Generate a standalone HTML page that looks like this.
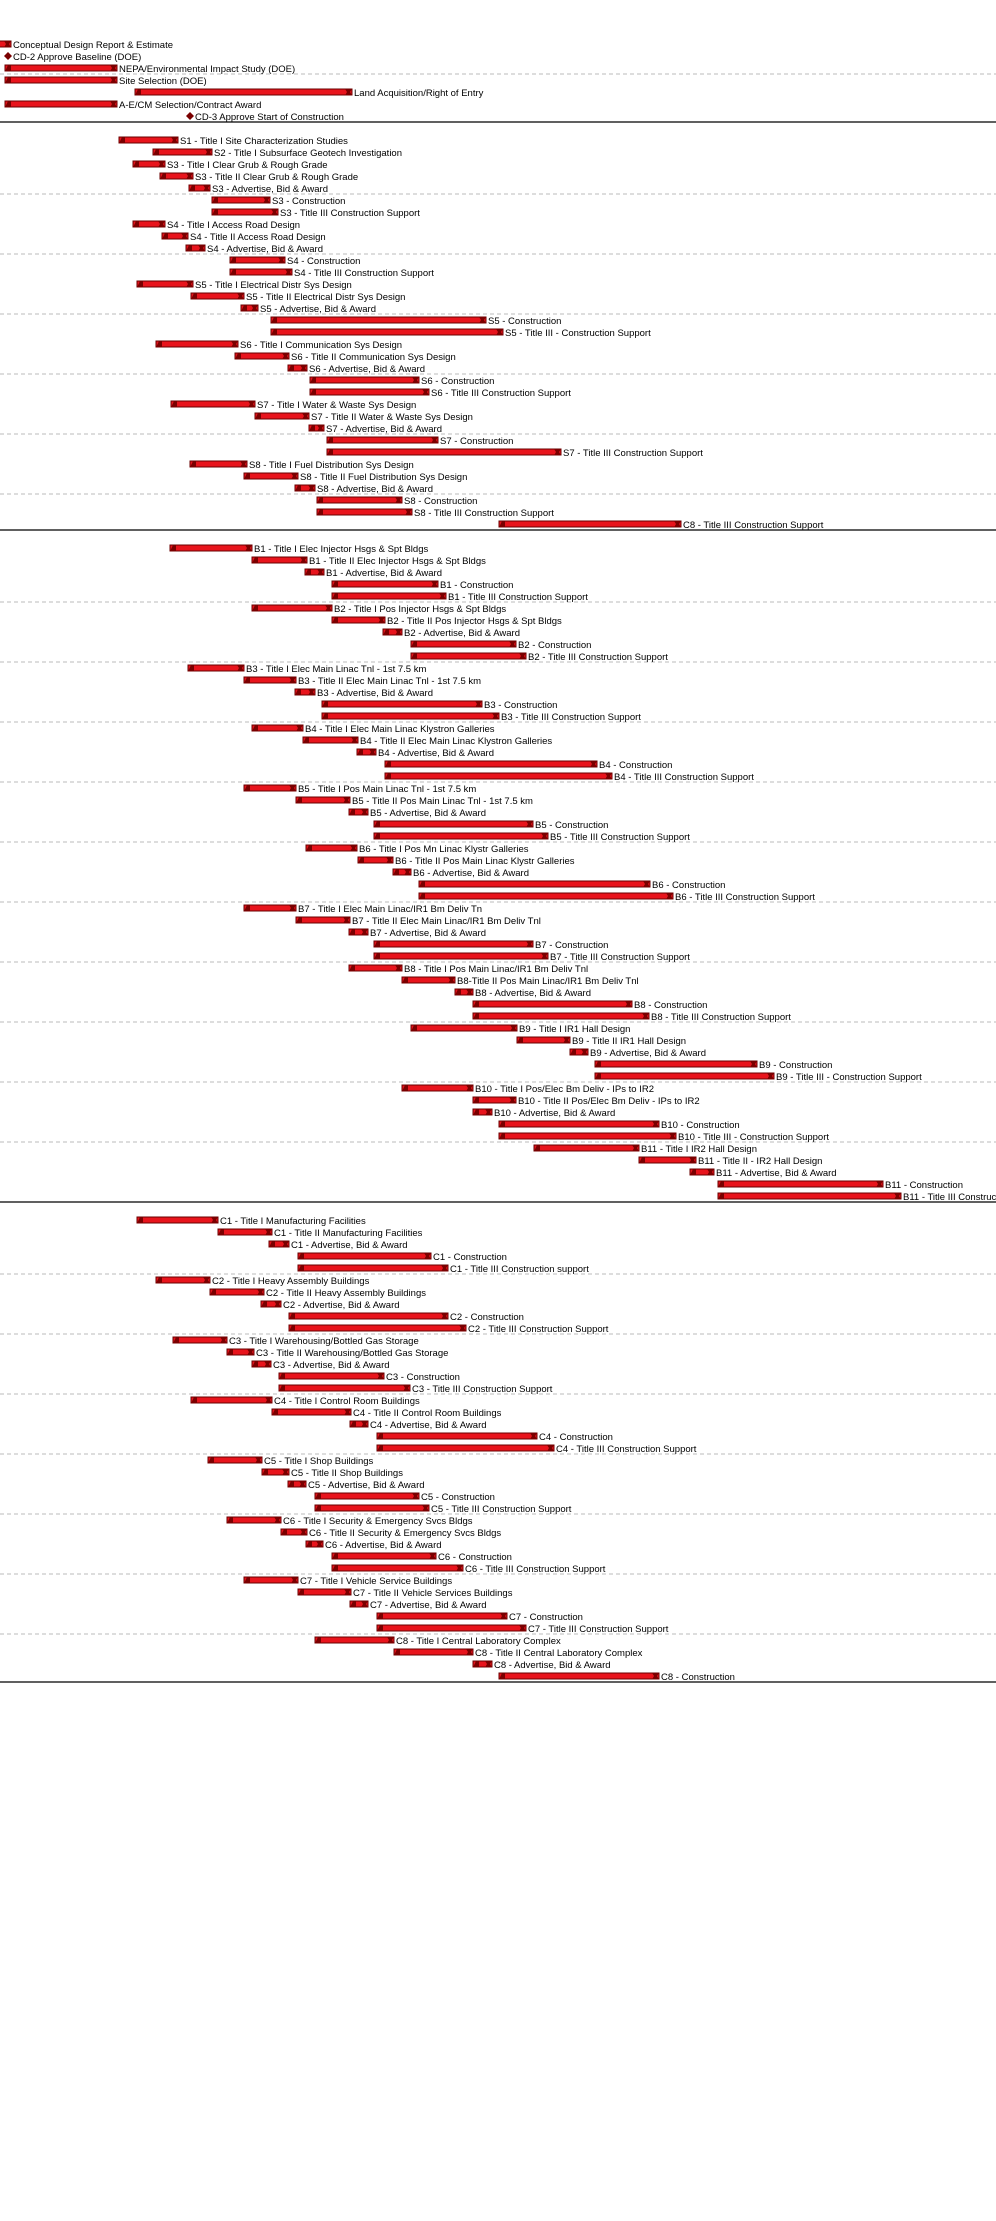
<!DOCTYPE html>
<html><head><meta charset="utf-8"><style>
html,body{margin:0;padding:0;background:#fff}
svg{display:block}
text{font-family:"Liberation Sans",sans-serif;font-size:9.5px;fill:#000}
.b{fill:#e8141c;stroke:#6a0000;stroke-width:1}
.c{fill:#7a0000}
.d{stroke:#bbb;stroke-width:1;stroke-dasharray:4,3}
.s{stroke:#000;stroke-width:1.2}
</style></head><body>
<svg width="996" height="2221" viewBox="0 0 996 2221" xmlns="http://www.w3.org/2000/svg">
<defs>
<polygon id="L" class="c" points="0,3.5 3,-3 6,-3 6,3.5"/>
<polygon id="R" class="c" points="-7,-3 0,-3 -2,0 0,3.5 -7,3.5 -5,0"/>
</defs>
<g>
<line class="d" x1="0" y1="74" x2="996" y2="74"/>
<line class="d" x1="0" y1="194" x2="996" y2="194"/><line class="d" x1="0" y1="254" x2="996" y2="254"/><line class="d" x1="0" y1="314" x2="996" y2="314"/><line class="d" x1="0" y1="374" x2="996" y2="374"/><line class="d" x1="0" y1="434" x2="996" y2="434"/><line class="d" x1="0" y1="494" x2="996" y2="494"/>
<line class="d" x1="0" y1="602" x2="996" y2="602"/><line class="d" x1="0" y1="662" x2="996" y2="662"/><line class="d" x1="0" y1="722" x2="996" y2="722"/><line class="d" x1="0" y1="782" x2="996" y2="782"/><line class="d" x1="0" y1="842" x2="996" y2="842"/><line class="d" x1="0" y1="902" x2="996" y2="902"/><line class="d" x1="0" y1="962" x2="996" y2="962"/><line class="d" x1="0" y1="1022" x2="996" y2="1022"/><line class="d" x1="0" y1="1082" x2="996" y2="1082"/><line class="d" x1="0" y1="1142" x2="996" y2="1142"/>
<line class="d" x1="0" y1="1274" x2="996" y2="1274"/><line class="d" x1="0" y1="1334" x2="996" y2="1334"/><line class="d" x1="0" y1="1394" x2="996" y2="1394"/><line class="d" x1="0" y1="1454" x2="996" y2="1454"/><line class="d" x1="0" y1="1514" x2="996" y2="1514"/><line class="d" x1="0" y1="1574" x2="996" y2="1574"/><line class="d" x1="0" y1="1634" x2="996" y2="1634"/>
<line class="s" x1="0" y1="122" x2="996" y2="122"/><line class="s" x1="0" y1="530" x2="996" y2="530"/><line class="s" x1="0" y1="1202" x2="996" y2="1202"/><line class="s" x1="0" y1="1682" x2="996" y2="1682"/>
</g>

<!-- Section 0 -->
<g transform="translate(-4,44)"><rect class="b" x="0" y="-3" width="15" height="6"/><use href="#R" x="15"/><text x="17" y="4">Conceptual  Design Report &amp; Estimate</text></g>
<g transform="translate(8,56)"><polygon class="c" points="0,-4 4,0 0,4 -4,0"/><text x="5" y="4">CD-2 Approve Baseline (DOE)</text></g>
<g transform="translate(5,68)"><rect class="b" y="-3" width="112" height="6"/><use href="#L"/><use href="#R" x="112"/><text x="114" y="4">NEPA/Environmental  Impact Study (DOE)</text></g>
<g transform="translate(5,80)"><rect class="b" y="-3" width="112" height="6"/><use href="#L"/><use href="#R" x="112"/><text x="114" y="4">Site Selection (DOE)</text></g>
<g transform="translate(135,92)"><rect class="b" y="-3" width="217" height="6"/><use href="#L"/><use href="#R" x="217"/><text x="219" y="4">Land Acquisition/Right of Entry</text></g>
<g transform="translate(5,104)"><rect class="b" y="-3" width="112" height="6"/><use href="#L"/><use href="#R" x="112"/><text x="114" y="4">A-E/CM Selection/Contract Award</text></g>
<g transform="translate(190,116)"><polygon class="c" points="0,-4 4,0 0,4 -4,0"/><text x="5" y="4">CD-3 Approve Start of Construction</text></g>

<!-- S section -->
<g transform="translate(119,140)"><rect class="b" y="-3" width="59" height="6"/><use href="#L"/><use href="#R" x="59"/><text x="61" y="4">S1 - Title I Site Characterization Studies</text></g>
<g transform="translate(153,152)"><rect class="b" y="-3" width="59" height="6"/><use href="#L"/><use href="#R" x="59"/><text x="61" y="4">S2 - Title I Subsurface Geotech Investigation</text></g>
<g transform="translate(133,164)"><rect class="b" y="-3" width="32" height="6"/><use href="#L"/><use href="#R" x="32"/><text x="34" y="4">S3 - Title I Clear Grub &amp; Rough Grade</text></g>
<g transform="translate(160,176)"><rect class="b" y="-3" width="33" height="6"/><use href="#L"/><use href="#R" x="33"/><text x="35" y="4">S3 - Title II Clear Grub &amp; Rough Grade</text></g>
<g transform="translate(189,188)"><rect class="b" y="-3" width="21" height="6"/><use href="#L"/><use href="#R" x="21"/><text x="23" y="4">S3 - Advertise, Bid &amp; Award</text></g>
<g transform="translate(212,200)"><rect class="b" y="-3" width="58" height="6"/><use href="#L"/><use href="#R" x="58"/><text x="60" y="4">S3 - Construction</text></g>
<g transform="translate(212,212)"><rect class="b" y="-3" width="66" height="6"/><use href="#L"/><use href="#R" x="66"/><text x="68" y="4">S3 - Title III Construction Support</text></g>
<g transform="translate(133,224)"><rect class="b" y="-3" width="32" height="6"/><use href="#L"/><use href="#R" x="32"/><text x="34" y="4">S4 - Title I Access Road Design</text></g>
<g transform="translate(162,236)"><rect class="b" y="-3" width="26" height="6"/><use href="#L"/><use href="#R" x="26"/><text x="28" y="4">S4 - Title II Access Road Design</text></g>
<g transform="translate(186,248)"><rect class="b" y="-3" width="19" height="6"/><use href="#L"/><use href="#R" x="19"/><text x="21" y="4">S4 - Advertise, Bid &amp; Award</text></g>
<g transform="translate(230,260)"><rect class="b" y="-3" width="55" height="6"/><use href="#L"/><use href="#R" x="55"/><text x="57" y="4">S4 - Construction</text></g>
<g transform="translate(230,272)"><rect class="b" y="-3" width="62" height="6"/><use href="#L"/><use href="#R" x="62"/><text x="64" y="4">S4 - Title III Construction Support</text></g>
<g transform="translate(137,284)"><rect class="b" y="-3" width="56" height="6"/><use href="#L"/><use href="#R" x="56"/><text x="58" y="4">S5 - Title I Electrical Distr Sys Design</text></g>
<g transform="translate(191,296)"><rect class="b" y="-3" width="53" height="6"/><use href="#L"/><use href="#R" x="53"/><text x="55" y="4">S5 - Title II Electrical Distr Sys Design</text></g>
<g transform="translate(241,308)"><rect class="b" y="-3" width="17" height="6"/><use href="#L"/><use href="#R" x="17"/><text x="19" y="4">S5 - Advertise, Bid &amp; Award</text></g>
<g transform="translate(271,320)"><rect class="b" y="-3" width="215" height="6"/><use href="#L"/><use href="#R" x="215"/><text x="217" y="4">S5 - Construction</text></g>
<g transform="translate(271,332)"><rect class="b" y="-3" width="232" height="6"/><use href="#L"/><use href="#R" x="232"/><text x="234" y="4">S5 - Title III - Construction Support</text></g>
<g transform="translate(156,344)"><rect class="b" y="-3" width="82" height="6"/><use href="#L"/><use href="#R" x="82"/><text x="84" y="4">S6 - Title I Communication Sys Design</text></g>
<g transform="translate(235,356)"><rect class="b" y="-3" width="54" height="6"/><use href="#L"/><use href="#R" x="54"/><text x="56" y="4">S6 - Title II Communication Sys Design</text></g>
<g transform="translate(288,368)"><rect class="b" y="-3" width="19" height="6"/><use href="#L"/><use href="#R" x="19"/><text x="21" y="4">S6 - Advertise, Bid &amp; Award</text></g>
<g transform="translate(310,380)"><rect class="b" y="-3" width="109" height="6"/><use href="#L"/><use href="#R" x="109"/><text x="111" y="4">S6 - Construction</text></g>
<g transform="translate(310,392)"><rect class="b" y="-3" width="119" height="6"/><use href="#L"/><use href="#R" x="119"/><text x="121" y="4">S6 - Title III Construction Support</text></g>
<g transform="translate(171,404)"><rect class="b" y="-3" width="84" height="6"/><use href="#L"/><use href="#R" x="84"/><text x="86" y="4">S7 - Title I Water &amp; Waste Sys Design</text></g>
<g transform="translate(255,416)"><rect class="b" y="-3" width="54" height="6"/><use href="#L"/><use href="#R" x="54"/><text x="56" y="4">S7 - Title II Water &amp; Waste Sys Design</text></g>
<g transform="translate(309,428)"><rect class="b" y="-3" width="15" height="6"/><use href="#L"/><use href="#R" x="15"/><text x="17" y="4">S7 - Advertise, Bid &amp; Award</text></g>
<g transform="translate(327,440)"><rect class="b" y="-3" width="111" height="6"/><use href="#L"/><use href="#R" x="111"/><text x="113" y="4">S7 - Construction</text></g>
<g transform="translate(327,452)"><rect class="b" y="-3" width="234" height="6"/><use href="#L"/><use href="#R" x="234"/><text x="236" y="4">S7 - Title III Construction Support</text></g>
<g transform="translate(190,464)"><rect class="b" y="-3" width="57" height="6"/><use href="#L"/><use href="#R" x="57"/><text x="59" y="4">S8 - Title I Fuel Distribution Sys Design</text></g>
<g transform="translate(244,476)"><rect class="b" y="-3" width="54" height="6"/><use href="#L"/><use href="#R" x="54"/><text x="56" y="4">S8 - Title II Fuel Distribution Sys Design</text></g>
<g transform="translate(295,488)"><rect class="b" y="-3" width="20" height="6"/><use href="#L"/><use href="#R" x="20"/><text x="22" y="4">S8 - Advertise, Bid &amp; Award</text></g>
<g transform="translate(317,500)"><rect class="b" y="-3" width="85" height="6"/><use href="#L"/><use href="#R" x="85"/><text x="87" y="4">S8 - Construction</text></g>
<g transform="translate(317,512)"><rect class="b" y="-3" width="95" height="6"/><use href="#L"/><use href="#R" x="95"/><text x="97" y="4">S8 - Title III Construction Support</text></g>
<g transform="translate(499,524)"><rect class="b" y="-3" width="182" height="6"/><use href="#L"/><use href="#R" x="182"/><text x="184" y="4">C8 - Title III Construction Support</text></g>

<!-- B section -->
<g transform="translate(170,548)"><rect class="b" y="-3" width="82" height="6"/><use href="#L"/><use href="#R" x="82"/><text x="84" y="4">B1 - Title I Elec Injector Hsgs &amp; Spt Bldgs</text></g>
<g transform="translate(252,560)"><rect class="b" y="-3" width="55" height="6"/><use href="#L"/><use href="#R" x="55"/><text x="57" y="4">B1 - Title II Elec Injector Hsgs &amp; Spt Bldgs</text></g>
<g transform="translate(305,572)"><rect class="b" y="-3" width="19" height="6"/><use href="#L"/><use href="#R" x="19"/><text x="21" y="4">B1 - Advertise, Bid &amp; Award</text></g>
<g transform="translate(332,584)"><rect class="b" y="-3" width="106" height="6"/><use href="#L"/><use href="#R" x="106"/><text x="108" y="4">B1 - Construction</text></g>
<g transform="translate(332,596)"><rect class="b" y="-3" width="114" height="6"/><use href="#L"/><use href="#R" x="114"/><text x="116" y="4">B1 - Title III Construction Support</text></g>
<g transform="translate(252,608)"><rect class="b" y="-3" width="80" height="6"/><use href="#L"/><use href="#R" x="80"/><text x="82" y="4">B2 - Title I Pos Injector Hsgs &amp; Spt Bldgs</text></g>
<g transform="translate(332,620)"><rect class="b" y="-3" width="53" height="6"/><use href="#L"/><use href="#R" x="53"/><text x="55" y="4">B2 - Title II Pos Injector Hsgs &amp; Spt Bldgs</text></g>
<g transform="translate(383,632)"><rect class="b" y="-3" width="19" height="6"/><use href="#L"/><use href="#R" x="19"/><text x="21" y="4">B2 - Advertise, Bid &amp; Award</text></g>
<g transform="translate(411,644)"><rect class="b" y="-3" width="105" height="6"/><use href="#L"/><use href="#R" x="105"/><text x="107" y="4">B2 - Construction</text></g>
<g transform="translate(411,656)"><rect class="b" y="-3" width="115" height="6"/><use href="#L"/><use href="#R" x="115"/><text x="117" y="4">B2 - Title III Construction Support</text></g>
<g transform="translate(188,668)"><rect class="b" y="-3" width="56" height="6"/><use href="#L"/><use href="#R" x="56"/><text x="58" y="4">B3 - Title I Elec Main Linac Tnl - 1st 7.5 km</text></g>
<g transform="translate(244,680)"><rect class="b" y="-3" width="52" height="6"/><use href="#L"/><use href="#R" x="52"/><text x="54" y="4">B3 - Title II Elec Main Linac Tnl - 1st 7.5 km</text></g>
<g transform="translate(295,692)"><rect class="b" y="-3" width="20" height="6"/><use href="#L"/><use href="#R" x="20"/><text x="22" y="4">B3 - Advertise, Bid &amp; Award</text></g>
<g transform="translate(322,704)"><rect class="b" y="-3" width="160" height="6"/><use href="#L"/><use href="#R" x="160"/><text x="162" y="4">B3 - Construction</text></g>
<g transform="translate(322,716)"><rect class="b" y="-3" width="177" height="6"/><use href="#L"/><use href="#R" x="177"/><text x="179" y="4">B3 - Title III Construction Support</text></g>
<g transform="translate(252,728)"><rect class="b" y="-3" width="51" height="6"/><use href="#L"/><use href="#R" x="51"/><text x="53" y="4">B4 - Title I Elec Main Linac Klystron Galleries</text></g>
<g transform="translate(303,740)"><rect class="b" y="-3" width="55" height="6"/><use href="#L"/><use href="#R" x="55"/><text x="57" y="4">B4 - Title II Elec Main Linac Klystron Galleries</text></g>
<g transform="translate(357,752)"><rect class="b" y="-3" width="19" height="6"/><use href="#L"/><use href="#R" x="19"/><text x="21" y="4">B4 - Advertise, Bid &amp; Award</text></g>
<g transform="translate(385,764)"><rect class="b" y="-3" width="212" height="6"/><use href="#L"/><use href="#R" x="212"/><text x="214" y="4">B4 - Construction</text></g>
<g transform="translate(385,776)"><rect class="b" y="-3" width="227" height="6"/><use href="#L"/><use href="#R" x="227"/><text x="229" y="4">B4 - Title III Construction Support</text></g>
<g transform="translate(244,788)"><rect class="b" y="-3" width="52" height="6"/><use href="#L"/><use href="#R" x="52"/><text x="54" y="4">B5 - Title I Pos Main Linac Tnl - 1st 7.5 km</text></g>
<g transform="translate(296,800)"><rect class="b" y="-3" width="54" height="6"/><use href="#L"/><use href="#R" x="54"/><text x="56" y="4">B5 - Title II Pos Main Linac Tnl - 1st 7.5 km</text></g>
<g transform="translate(349,812)"><rect class="b" y="-3" width="19" height="6"/><use href="#L"/><use href="#R" x="19"/><text x="21" y="4">B5 - Advertise, Bid &amp; Award</text></g>
<g transform="translate(374,824)"><rect class="b" y="-3" width="159" height="6"/><use href="#L"/><use href="#R" x="159"/><text x="161" y="4">B5 - Construction</text></g>
<g transform="translate(374,836)"><rect class="b" y="-3" width="174" height="6"/><use href="#L"/><use href="#R" x="174"/><text x="176" y="4">B5 - Title III Construction Support</text></g>
<g transform="translate(306,848)"><rect class="b" y="-3" width="51" height="6"/><use href="#L"/><use href="#R" x="51"/><text x="53" y="4">B6 - Title I Pos Mn Linac Klystr Galleries</text></g>
<g transform="translate(358,860)"><rect class="b" y="-3" width="35" height="6"/><use href="#L"/><use href="#R" x="35"/><text x="37" y="4">B6 - Title II Pos Main Linac Klystr Galleries</text></g>
<g transform="translate(393,872)"><rect class="b" y="-3" width="18" height="6"/><use href="#L"/><use href="#R" x="18"/><text x="20" y="4">B6 - Advertise, Bid &amp; Award</text></g>
<g transform="translate(419,884)"><rect class="b" y="-3" width="231" height="6"/><use href="#L"/><use href="#R" x="231"/><text x="233" y="4">B6 - Construction</text></g>
<g transform="translate(419,896)"><rect class="b" y="-3" width="254" height="6"/><use href="#L"/><use href="#R" x="254"/><text x="256" y="4">B6 - Title III Construction Support</text></g>
<g transform="translate(244,908)"><rect class="b" y="-3" width="52" height="6"/><use href="#L"/><use href="#R" x="52"/><text x="54" y="4">B7 - Title I Elec Main Linac/IR1 Bm Deliv Tn</text></g>
<g transform="translate(296,920)"><rect class="b" y="-3" width="54" height="6"/><use href="#L"/><use href="#R" x="54"/><text x="56" y="4">B7 - Title II Elec Main Linac/IR1 Bm Deliv Tnl</text></g>
<g transform="translate(349,932)"><rect class="b" y="-3" width="19" height="6"/><use href="#L"/><use href="#R" x="19"/><text x="21" y="4">B7 - Advertise, Bid &amp; Award</text></g>
<g transform="translate(374,944)"><rect class="b" y="-3" width="159" height="6"/><use href="#L"/><use href="#R" x="159"/><text x="161" y="4">B7 - Construction</text></g>
<g transform="translate(374,956)"><rect class="b" y="-3" width="174" height="6"/><use href="#L"/><use href="#R" x="174"/><text x="176" y="4">B7 - Title III Construction Support</text></g>
<g transform="translate(349,968)"><rect class="b" y="-3" width="53" height="6"/><use href="#L"/><use href="#R" x="53"/><text x="55" y="4">B8 - Title I Pos Main Linac/IR1 Bm Deliv Tnl</text></g>
<g transform="translate(402,980)"><rect class="b" y="-3" width="53" height="6"/><use href="#L"/><use href="#R" x="53"/><text x="55" y="4">B8-Title II Pos Main Linac/IR1 Bm Deliv Tnl</text></g>
<g transform="translate(455,992)"><rect class="b" y="-3" width="18" height="6"/><use href="#L"/><use href="#R" x="18"/><text x="20" y="4">B8 - Advertise, Bid &amp; Award</text></g>
<g transform="translate(473,1004)"><rect class="b" y="-3" width="159" height="6"/><use href="#L"/><use href="#R" x="159"/><text x="161" y="4">B8 - Construction</text></g>
<g transform="translate(473,1016)"><rect class="b" y="-3" width="176" height="6"/><use href="#L"/><use href="#R" x="176"/><text x="178" y="4">B8 - Title III Construction Support</text></g>
<g transform="translate(411,1028)"><rect class="b" y="-3" width="106" height="6"/><use href="#L"/><use href="#R" x="106"/><text x="108" y="4">B9 - Title I IR1 Hall Design</text></g>
<g transform="translate(517,1040)"><rect class="b" y="-3" width="53" height="6"/><use href="#L"/><use href="#R" x="53"/><text x="55" y="4">B9 - Title II IR1 Hall Design</text></g>
<g transform="translate(570,1052)"><rect class="b" y="-3" width="18" height="6"/><use href="#L"/><use href="#R" x="18"/><text x="20" y="4">B9 - Advertise, Bid &amp; Award</text></g>
<g transform="translate(595,1064)"><rect class="b" y="-3" width="162" height="6"/><use href="#L"/><use href="#R" x="162"/><text x="164" y="4">B9 - Construction</text></g>
<g transform="translate(595,1076)"><rect class="b" y="-3" width="179" height="6"/><use href="#L"/><use href="#R" x="179"/><text x="181" y="4">B9 - Title III - Construction Support</text></g>
<g transform="translate(402,1088)"><rect class="b" y="-3" width="71" height="6"/><use href="#L"/><use href="#R" x="71"/><text x="73" y="4">B10 - Title I Pos/Elec Bm Deliv - IPs to IR2</text></g>
<g transform="translate(473,1100)"><rect class="b" y="-3" width="43" height="6"/><use href="#L"/><use href="#R" x="43"/><text x="45" y="4">B10 - Title II Pos/Elec Bm Deliv - IPs to IR2</text></g>
<g transform="translate(473,1112)"><rect class="b" y="-3" width="19" height="6"/><use href="#L"/><use href="#R" x="19"/><text x="21" y="4">B10 - Advertise, Bid &amp; Award</text></g>
<g transform="translate(499,1124)"><rect class="b" y="-3" width="160" height="6"/><use href="#L"/><use href="#R" x="160"/><text x="162" y="4">B10 - Construction</text></g>
<g transform="translate(499,1136)"><rect class="b" y="-3" width="177" height="6"/><use href="#L"/><use href="#R" x="177"/><text x="179" y="4">B10 - Title III - Construction Support</text></g>
<g transform="translate(534,1148)"><rect class="b" y="-3" width="105" height="6"/><use href="#L"/><use href="#R" x="105"/><text x="107" y="4">B11 - Title I IR2 Hall Design</text></g>
<g transform="translate(639,1160)"><rect class="b" y="-3" width="57" height="6"/><use href="#L"/><use href="#R" x="57"/><text x="59" y="4">B11 - Title II - IR2 Hall Design</text></g>
<g transform="translate(690,1172)"><rect class="b" y="-3" width="24" height="6"/><use href="#L"/><use href="#R" x="24"/><text x="26" y="4">B11 - Advertise, Bid &amp; Award</text></g>
<g transform="translate(718,1184)"><rect class="b" y="-3" width="165" height="6"/><use href="#L"/><use href="#R" x="165"/><text x="167" y="4">B11 - Construction</text></g>
<g transform="translate(718,1196)"><rect class="b" y="-3" width="183" height="6"/><use href="#L"/><use href="#R" x="183"/><text x="185" y="4">B11 - Title III Construction Support</text></g>

<!-- C section -->
<g transform="translate(137,1220)"><rect class="b" y="-3" width="81" height="6"/><use href="#L"/><use href="#R" x="81"/><text x="83" y="4">C1 - Title I Manufacturing Facilities</text></g>
<g transform="translate(218,1232)"><rect class="b" y="-3" width="54" height="6"/><use href="#L"/><use href="#R" x="54"/><text x="56" y="4">C1 - Title II Manufacturing Facilities</text></g>
<g transform="translate(269,1244)"><rect class="b" y="-3" width="20" height="6"/><use href="#L"/><use href="#R" x="20"/><text x="22" y="4">C1 - Advertise, Bid &amp; Award</text></g>
<g transform="translate(298,1256)"><rect class="b" y="-3" width="133" height="6"/><use href="#L"/><use href="#R" x="133"/><text x="135" y="4">C1 - Construction</text></g>
<g transform="translate(298,1268)"><rect class="b" y="-3" width="150" height="6"/><use href="#L"/><use href="#R" x="150"/><text x="152" y="4">C1 - Title III Construction support</text></g>
<g transform="translate(156,1280)"><rect class="b" y="-3" width="54" height="6"/><use href="#L"/><use href="#R" x="54"/><text x="56" y="4">C2 - Title I Heavy Assembly Buildings</text></g>
<g transform="translate(210,1292)"><rect class="b" y="-3" width="54" height="6"/><use href="#L"/><use href="#R" x="54"/><text x="56" y="4">C2 - Title II Heavy Assembly Buildings</text></g>
<g transform="translate(261,1304)"><rect class="b" y="-3" width="20" height="6"/><use href="#L"/><use href="#R" x="20"/><text x="22" y="4">C2 - Advertise, Bid &amp; Award</text></g>
<g transform="translate(289,1316)"><rect class="b" y="-3" width="159" height="6"/><use href="#L"/><use href="#R" x="159"/><text x="161" y="4">C2 - Construction</text></g>
<g transform="translate(289,1328)"><rect class="b" y="-3" width="177" height="6"/><use href="#L"/><use href="#R" x="177"/><text x="179" y="4">C2 - Title III Construction Support</text></g>
<g transform="translate(173,1340)"><rect class="b" y="-3" width="54" height="6"/><use href="#L"/><use href="#R" x="54"/><text x="56" y="4">C3 - Title I Warehousing/Bottled Gas Storage</text></g>
<g transform="translate(227,1352)"><rect class="b" y="-3" width="27" height="6"/><use href="#L"/><use href="#R" x="27"/><text x="29" y="4">C3 - Title II Warehousing/Bottled Gas Storage</text></g>
<g transform="translate(252,1364)"><rect class="b" y="-3" width="19" height="6"/><use href="#L"/><use href="#R" x="19"/><text x="21" y="4">C3 - Advertise, Bid &amp; Award</text></g>
<g transform="translate(279,1376)"><rect class="b" y="-3" width="105" height="6"/><use href="#L"/><use href="#R" x="105"/><text x="107" y="4">C3 - Construction</text></g>
<g transform="translate(279,1388)"><rect class="b" y="-3" width="131" height="6"/><use href="#L"/><use href="#R" x="131"/><text x="133" y="4">C3 - Title III Construction Support</text></g>
<g transform="translate(191,1400)"><rect class="b" y="-3" width="81" height="6"/><use href="#L"/><use href="#R" x="81"/><text x="83" y="4">C4 - Title I Control Room Buildings</text></g>
<g transform="translate(272,1412)"><rect class="b" y="-3" width="79" height="6"/><use href="#L"/><use href="#R" x="79"/><text x="81" y="4">C4 - Title II Control Room Buildings</text></g>
<g transform="translate(350,1424)"><rect class="b" y="-3" width="18" height="6"/><use href="#L"/><use href="#R" x="18"/><text x="20" y="4">C4 - Advertise, Bid &amp; Award</text></g>
<g transform="translate(377,1436)"><rect class="b" y="-3" width="160" height="6"/><use href="#L"/><use href="#R" x="160"/><text x="162" y="4">C4 - Construction</text></g>
<g transform="translate(377,1448)"><rect class="b" y="-3" width="177" height="6"/><use href="#L"/><use href="#R" x="177"/><text x="179" y="4">C4 - Title III Construction Support</text></g>
<g transform="translate(208,1460)"><rect class="b" y="-3" width="54" height="6"/><use href="#L"/><use href="#R" x="54"/><text x="56" y="4">C5 - Title I Shop Buildings</text></g>
<g transform="translate(262,1472)"><rect class="b" y="-3" width="27" height="6"/><use href="#L"/><use href="#R" x="27"/><text x="29" y="4">C5 - Title II Shop Buildings</text></g>
<g transform="translate(288,1484)"><rect class="b" y="-3" width="18" height="6"/><use href="#L"/><use href="#R" x="18"/><text x="20" y="4">C5 - Advertise, Bid &amp; Award</text></g>
<g transform="translate(315,1496)"><rect class="b" y="-3" width="104" height="6"/><use href="#L"/><use href="#R" x="104"/><text x="106" y="4">C5 - Construction</text></g>
<g transform="translate(315,1508)"><rect class="b" y="-3" width="114" height="6"/><use href="#L"/><use href="#R" x="114"/><text x="116" y="4">C5 - Title III Construction Support</text></g>
<g transform="translate(227,1520)"><rect class="b" y="-3" width="54" height="6"/><use href="#L"/><use href="#R" x="54"/><text x="56" y="4">C6 - Title I Security &amp; Emergency Svcs Bldgs</text></g>
<g transform="translate(281,1532)"><rect class="b" y="-3" width="26" height="6"/><use href="#L"/><use href="#R" x="26"/><text x="28" y="4">C6 - Title II Security &amp; Emergency Svcs Bldgs</text></g>
<g transform="translate(306,1544)"><rect class="b" y="-3" width="17" height="6"/><use href="#L"/><use href="#R" x="17"/><text x="19" y="4">C6 - Advertise, Bid &amp; Award</text></g>
<g transform="translate(332,1556)"><rect class="b" y="-3" width="104" height="6"/><use href="#L"/><use href="#R" x="104"/><text x="106" y="4">C6 - Construction</text></g>
<g transform="translate(332,1568)"><rect class="b" y="-3" width="131" height="6"/><use href="#L"/><use href="#R" x="131"/><text x="133" y="4">C6 - Title III Construction Support</text></g>
<g transform="translate(244,1580)"><rect class="b" y="-3" width="54" height="6"/><use href="#L"/><use href="#R" x="54"/><text x="56" y="4">C7 - Title I Vehicle Service Buildings</text></g>
<g transform="translate(298,1592)"><rect class="b" y="-3" width="53" height="6"/><use href="#L"/><use href="#R" x="53"/><text x="55" y="4">C7 - Title II Vehicle Services Buildings</text></g>
<g transform="translate(350,1604)"><rect class="b" y="-3" width="18" height="6"/><use href="#L"/><use href="#R" x="18"/><text x="20" y="4">C7 - Advertise, Bid &amp; Award</text></g>
<g transform="translate(377,1616)"><rect class="b" y="-3" width="130" height="6"/><use href="#L"/><use href="#R" x="130"/><text x="132" y="4">C7 - Construction</text></g>
<g transform="translate(377,1628)"><rect class="b" y="-3" width="149" height="6"/><use href="#L"/><use href="#R" x="149"/><text x="151" y="4">C7 - Title III Construction Support</text></g>
<g transform="translate(315,1640)"><rect class="b" y="-3" width="79" height="6"/><use href="#L"/><use href="#R" x="79"/><text x="81" y="4">C8 - Title I Central Laboratory Complex</text></g>
<g transform="translate(394,1652)"><rect class="b" y="-3" width="79" height="6"/><use href="#L"/><use href="#R" x="79"/><text x="81" y="4">C8 - Title II Central Laboratory Complex</text></g>
<g transform="translate(473,1664)"><rect class="b" y="-3" width="19" height="6"/><use href="#L"/><use href="#R" x="19"/><text x="21" y="4">C8 - Advertise, Bid &amp; Award</text></g>
<g transform="translate(499,1676)"><rect class="b" y="-3" width="160" height="6"/><use href="#L"/><use href="#R" x="160"/><text x="162" y="4">C8 - Construction</text></g>
</svg>
</body></html>
